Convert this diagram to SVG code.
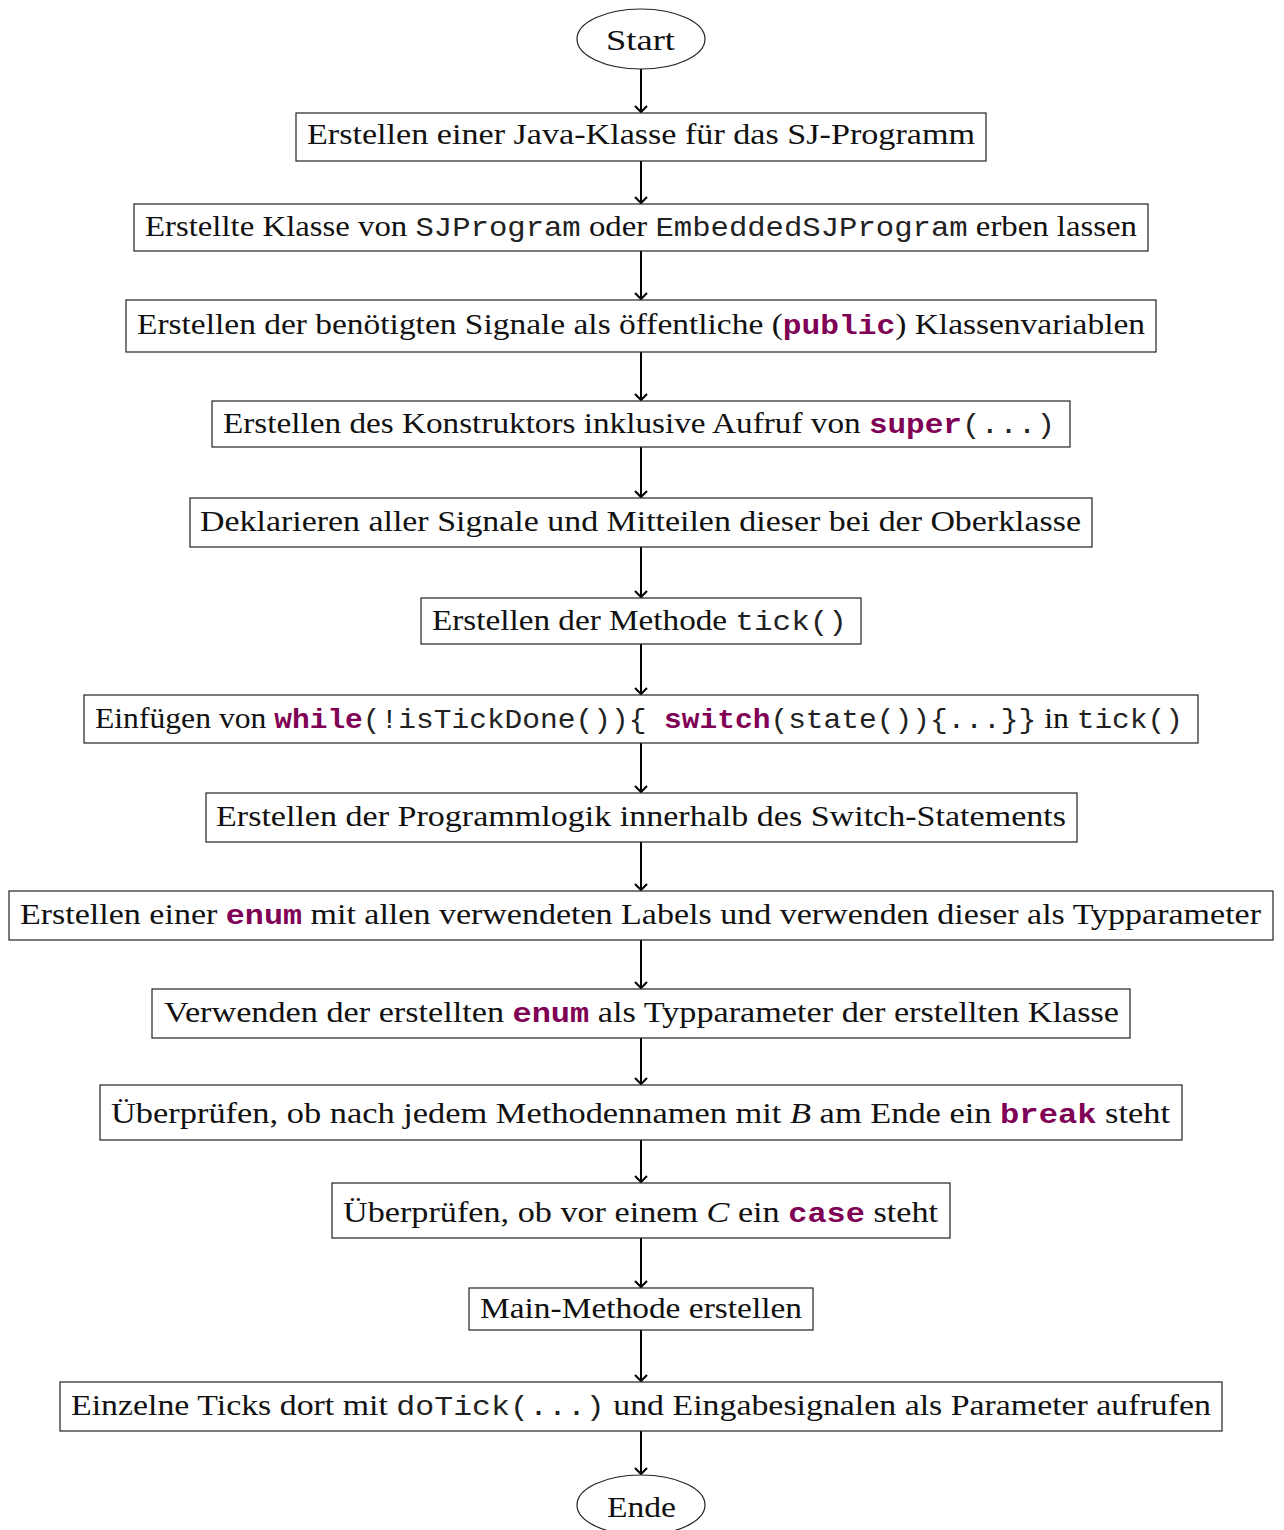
<svg xmlns="http://www.w3.org/2000/svg" width="1284" height="1530" viewBox="0 0 1284 1530">
<style>
.box{fill:#fff;stroke:#222;stroke-width:1.2}
.t{font-family:"Liberation Serif","Times New Roman",serif;font-size:30px;fill:#111}
.m{font-family:"Liberation Mono","Courier New",monospace;font-size:28px;fill:#222}
.k{font-family:"Liberation Mono","Courier New",monospace;font-size:28px;font-weight:bold;fill:#7F0055}
.i{font-style:italic}
.c{stroke:#000;stroke-width:2;fill:none}
</style>
<defs>
<marker id="ah" markerUnits="userSpaceOnUse" markerWidth="16" markerHeight="16" viewBox="-8 -8 16 16" refX="0" refY="0" orient="auto">
<path d="M -6 -6 L 0 0 L -6 6" fill="none" stroke="#000" stroke-width="2"/>
</marker>
</defs>
<rect width="1284" height="1530" fill="#fff"/>
<g id="connectors">
<line class="c" x1="641" y1="69" x2="641" y2="112" marker-end="url(#ah)"/>
<line class="c" x1="641" y1="161" x2="641" y2="203" marker-end="url(#ah)"/>
<line class="c" x1="641" y1="251" x2="641" y2="299" marker-end="url(#ah)"/>
<line class="c" x1="641" y1="352" x2="641" y2="400" marker-end="url(#ah)"/>
<line class="c" x1="641" y1="447" x2="641" y2="497" marker-end="url(#ah)"/>
<line class="c" x1="641" y1="547" x2="641" y2="597" marker-end="url(#ah)"/>
<line class="c" x1="641" y1="644" x2="641" y2="694" marker-end="url(#ah)"/>
<line class="c" x1="641" y1="743" x2="641" y2="792" marker-end="url(#ah)"/>
<line class="c" x1="641" y1="842" x2="641" y2="890" marker-end="url(#ah)"/>
<line class="c" x1="641" y1="940" x2="641" y2="988" marker-end="url(#ah)"/>
<line class="c" x1="641" y1="1038" x2="641" y2="1084" marker-end="url(#ah)"/>
<line class="c" x1="641" y1="1140" x2="641" y2="1182" marker-end="url(#ah)"/>
<line class="c" x1="641" y1="1238" x2="641" y2="1287" marker-end="url(#ah)"/>
<line class="c" x1="641" y1="1330" x2="641" y2="1381" marker-end="url(#ah)"/>
<line class="c" x1="641" y1="1431" x2="641" y2="1474" marker-end="url(#ah)"/>
</g>
<g id="start">
<ellipse class="box" cx="641" cy="39" rx="64" ry="30"/>
<text class="t" x="606" y="50" textLength="69" lengthAdjust="spacingAndGlyphs">Start</text>
</g>
<g id="n1">
<rect class="box" x="296" y="113" width="690" height="48"/>
<text class="t" x="307" y="144" textLength="668" lengthAdjust="spacingAndGlyphs">Erstellen einer Java-Klasse für das SJ-Programm</text>
</g>
<g id="n2">
<rect class="box" x="134" y="204" width="1014" height="47"/>
<text class="t" x="145" y="236" textLength="992" lengthAdjust="spacingAndGlyphs">Erstellte Klasse von <tspan class="m">SJProgram</tspan> oder <tspan class="m">EmbeddedSJProgram</tspan> erben lassen</text>
</g>
<g id="n3">
<rect class="box" x="126" y="300" width="1030" height="52"/>
<text class="t" x="137" y="334" textLength="1008" lengthAdjust="spacingAndGlyphs">Erstellen der benötigten Signale als öffentliche (<tspan class="k">public</tspan>) Klassenvariablen</text>
</g>
<g id="n4">
<rect class="box" x="212" y="401" width="858" height="46"/>
<text class="t" x="223" y="433" textLength="832" lengthAdjust="spacingAndGlyphs">Erstellen des Konstruktors inklusive Aufruf von <tspan class="k">super</tspan><tspan class="m">(...)</tspan></text>
</g>
<g id="n5">
<rect class="box" x="190" y="498" width="902" height="49"/>
<text class="t" x="200" y="531" textLength="881" lengthAdjust="spacingAndGlyphs">Deklarieren aller Signale und Mitteilen dieser bei der Oberklasse</text>
</g>
<g id="n6">
<rect class="box" x="421" y="598" width="440" height="46"/>
<text class="t" x="432" y="630" textLength="415" lengthAdjust="spacingAndGlyphs">Erstellen der Methode <tspan class="m">tick()</tspan></text>
</g>
<g id="n7">
<rect class="box" x="84" y="695" width="1114" height="48"/>
<text class="t" x="95" y="728" textLength="1088" lengthAdjust="spacingAndGlyphs">Einfügen von <tspan class="k">while</tspan><tspan class="m">(!isTickDone()){&#160;</tspan><tspan class="k">switch</tspan><tspan class="m">(state()){...}}</tspan> in <tspan class="m">tick()</tspan></text>
</g>
<g id="n8">
<rect class="box" x="206" y="793" width="871" height="49"/>
<text class="t" x="216" y="826" textLength="850" lengthAdjust="spacingAndGlyphs">Erstellen der Programmlogik innerhalb des Switch-Statements</text>
</g>
<g id="n9">
<rect class="box" x="9" y="891" width="1264" height="49"/>
<text class="t" x="20" y="924" textLength="1241" lengthAdjust="spacingAndGlyphs">Erstellen einer <tspan class="k">enum</tspan> mit allen verwendeten Labels und verwenden dieser als Typparameter</text>
</g>
<g id="n10">
<rect class="box" x="152" y="989" width="978" height="49"/>
<text class="t" x="164" y="1022" textLength="955" lengthAdjust="spacingAndGlyphs">Verwenden der erstellten <tspan class="k">enum</tspan> als Typparameter der erstellten Klasse</text>
</g>
<g id="n11">
<rect class="box" x="100" y="1085" width="1082" height="55"/>
<text class="t" x="111" y="1123" textLength="1059" lengthAdjust="spacingAndGlyphs">Überprüfen, ob nach jedem Methodennamen mit <tspan class="i">B</tspan> am Ende ein <tspan class="k">break</tspan> steht</text>
</g>
<g id="n12">
<rect class="box" x="332" y="1183" width="618" height="55"/>
<text class="t" x="343" y="1222" textLength="595" lengthAdjust="spacingAndGlyphs">Überprüfen, ob vor einem <tspan class="i">C</tspan> ein <tspan class="k">case</tspan> steht</text>
</g>
<g id="n13">
<rect class="box" x="469" y="1288" width="344" height="42"/>
<text class="t" x="480" y="1318" textLength="322" lengthAdjust="spacingAndGlyphs">Main-Methode erstellen</text>
</g>
<g id="n14">
<rect class="box" x="60" y="1382" width="1162" height="49"/>
<text class="t" x="71" y="1415" textLength="1140" lengthAdjust="spacingAndGlyphs">Einzelne Ticks dort mit <tspan class="m">doTick(...)</tspan> und Eingabesignalen als Parameter aufrufen</text>
</g>
<g id="end">
<ellipse class="box" cx="641" cy="1505" rx="64" ry="30"/>
<text class="t" x="607" y="1517" textLength="69" lengthAdjust="spacingAndGlyphs">Ende</text>
</g>
</svg>
